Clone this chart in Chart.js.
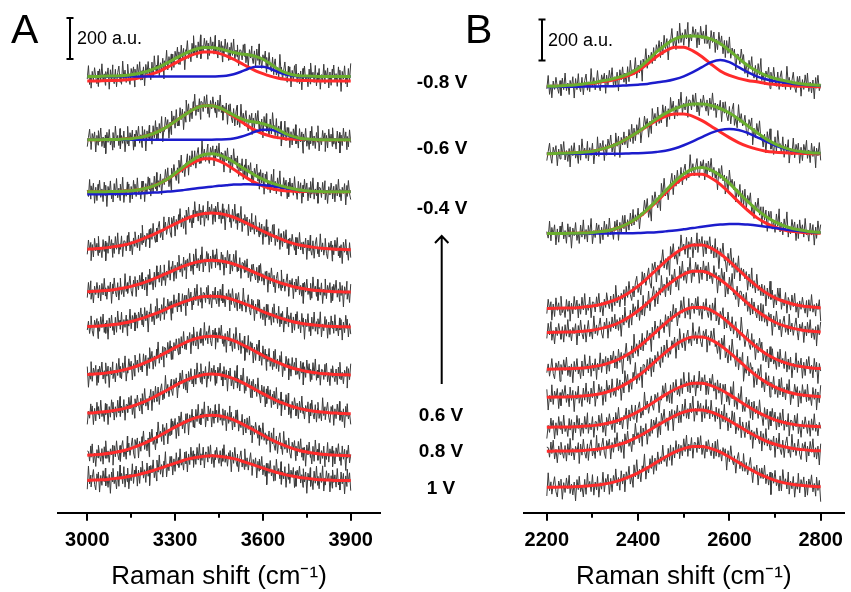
<!DOCTYPE html>
<html>
<head>
<meta charset="utf-8">
<script src="https://cdn.jsdelivr.net/npm/chart.js@4.4.1/dist/chart.umd.min.js"></script>
<style>
  html, body { margin: 0; padding: 0; background: #fff; }
  #wrap { position: relative; width: 851px; height: 592px; }
  #chartA { position: absolute; left: 0; top: 0; }
  #chartB { position: absolute; left: 410px; top: 0; }
</style>
</head>
<body>
<div id="wrap">
  <canvas id="chartA" width="410" height="592"></canvas>
  <canvas id="chartB" width="441" height="592"></canvas>
</div>
<script>
// ---- data (a.u.) ----
const xA = [3000,3025,3050,3075,3100,3125,3150,3175,3200,3225,3250,3275,3300,3325,3350,3375,3400,3425,3450,3475,3500,3525,3550,3575,3600,3625,3650,3675,3700,3725,3750,3775,3800,3825,3850,3875,3900];
const xB = [2200,2220,2240,2260,2280,2300,2320,2340,2360,2380,2400,2420,2440,2460,2480,2500,2520,2540,2560,2580,2600,2620,2640,2660,2680,2700,2720,2740,2760,2780,2800];

const ticksA = [3000, 3300, 3600, 3900];
const minorA = [3150, 3450, 3750];
const ticksB = [2200, 2400, 2600, 2800];
const minorB = [2300, 2500, 2700];

const voltages = ['-0.8 V', '-0.6 V', '-0.4 V', '0.6 V', '0.8 V', '1 V'];
const scaleBar = 200;

// stacking offset of each spectrum (top -> bottom)
const offsetsA = [2127, 1819, 1565, 1282, 1075, 905, 671, 482, 277, 156];
const offsetsB = [2075, 1751, 1362, 996, 879, 700, 563, 417, 300, 125];

// red fit, panel A
const redA = [
  [-22,-22,-21,-20,-19,-17,-13,-7,2,14,28,46,65,84,101,113,120,120,113,101,84,65,46,28,14,2,-7,-13,-17,-19,-20,-21,-22,-22,-22,-22,-22],
  [0,0,0,1,1,3,5,10,18,29,45,65,89,114,137,156,166,166,156,137,114,89,65,45,29,18,10,5,3,1,1,0,0,0,0,0,0],
  [0,0,0,1,1,3,5,10,17,28,43,63,86,110,133,151,161,161,151,133,110,86,63,43,28,17,10,5,3,1,1,0,0,0,0,0,0],
  [3,5,8,12,17,24,33,45,59,74,91,109,127,144,159,170,177,180,177,170,159,144,127,109,91,74,59,45,33,24,17,12,8,5,3,2,1],
  [3,5,7,10,15,21,29,39,51,64,79,95,110,125,138,148,154,156,154,148,138,125,110,95,79,64,51,39,29,21,15,10,7,5,3,2,1],
  [3,4,7,10,14,20,28,38,49,62,76,92,107,121,133,143,149,151,149,143,133,121,107,92,76,62,49,38,28,20,14,10,7,4,3,2,1],
  [3,6,8,13,18,26,35,47,62,78,96,115,134,152,168,180,187,190,187,180,168,152,134,115,96,78,62,47,35,26,18,13,8,6,3,2,1],
  [4,6,9,13,19,26,36,49,63,80,99,118,138,156,172,184,192,195,192,184,172,156,138,118,99,80,63,49,36,26,19,13,9,6,4,2,1],
  [4,6,9,13,19,27,37,50,65,82,101,121,141,159,176,188,196,199,196,188,176,159,141,121,101,82,65,50,37,27,19,13,9,6,4,2,1],
  [2,4,5,8,12,16,23,30,40,50,62,74,86,98,108,115,120,122,120,115,108,98,86,74,62,50,40,30,23,16,12,8,5,4,2,1,1]
];
// blue component, panel A (top three spectra)
const blueA = [
  [0,0,0,0,0,0,0,0,0,0,0,0,0,0,0,0,0,0,1,4,11,23,38,48,48,38,23,11,4,1,0,0,0,0,0,0,0],
  [0,0,0,0,0,0,0,0,0,0,0,0,0,0,0,0,0,0,1,2,6,14,26,40,49,49,40,26,14,6,2,1,0,0,0,0,0],
  [-12,-12,-12,-11,-11,-10,-9,-8,-6,-4,-2,1,4,8,12,17,21,25,29,32,35,36,37,36,33,29,24,19,13,8,4,2,1,0,0,0,0]
];
// green cumulative fit, panel A
const greenA = [
  [0,0,1,2,3,5,9,15,24,36,50,68,87,106,123,135,142,142,136,127,117,110,106,98,84,62,38,20,9,4,2,1,0,0,0,0,0],
  [0,0,0,1,1,3,5,10,18,29,45,65,89,114,137,156,166,166,157,139,120,103,91,85,78,67,50,31,17,7,3,1,0,0,0,0,0],
  [0,0,0,1,1,3,5,10,17,28,43,64,90,118,145,168,182,186,180,165,145,122,100,79,61,46,34,24,16,9,5,2,1,0,0,0,0]
];

// red fit, panel B
const redB = [
  [3,4,6,9,13,18,26,33,43,57,79,112,148,177,195,195,177,148,112,79,57,43,33,26,18,13,9,6,4,3,2],
  [0,1,2,4,7,12,22,35,54,78,105,134,161,182,193,193,182,161,134,105,78,54,35,22,12,7,4,2,1,0,0],
  [0,0,0,1,2,5,9,17,30,50,77,113,154,198,239,270,288,288,270,239,198,154,113,77,50,30,17,9,5,2,1],
  [0,1,2,3,7,12,21,34,52,77,109,147,189,230,267,294,309,309,294,267,230,189,147,109,77,52,34,21,12,7,3],
  [0,1,2,3,6,11,20,32,50,75,106,142,182,222,257,284,298,298,284,257,222,182,142,106,75,50,32,20,11,6,3],
  [0,1,2,3,6,12,20,33,51,75,107,144,184,224,260,287,301,301,287,260,224,184,144,107,75,51,33,20,12,6,3],
  [0,1,2,3,6,11,19,32,50,74,104,140,180,219,254,280,294,294,280,254,219,180,140,104,74,50,32,19,11,6,3],
  [0,1,1,2,5,8,14,23,36,54,76,102,131,159,184,203,214,214,203,184,159,131,102,76,54,36,23,14,8,5,2],
  [0,1,1,2,4,8,13,22,34,50,71,96,123,149,173,191,201,201,191,173,149,123,96,71,50,34,22,13,8,4,2],
  [0,0,1,2,4,8,13,21,33,50,70,94,121,147,171,188,198,198,188,171,147,121,94,70,50,33,21,13,8,4,2]
];
const blueB = [
  [1,1,2,2,3,3,4,5,7,9,12,16,23,29,39,53,73,98,122,133,122,98,73,53,39,29,23,16,12,9,7],
  [0,0,0,0,0,0,0,0,0,1,2,4,8,14,25,41,60,81,101,115,120,115,101,81,60,41,25,14,8,4,2],
  [0,0,0,0,0,0,0,0,1,1,2,4,6,10,14,20,26,33,39,43,46,46,43,39,33,26,20,14,10,6,4]
];
const greenB = [
  [4,5,8,11,16,21,30,38,50,66,91,128,171,206,234,248,250,246,234,212,179,141,106,79,57,42,32,22,16,12,9],
  [0,1,2,4,7,12,22,35,54,79,107,138,169,196,218,234,242,242,235,220,198,169,136,103,72,48,29,16,9,4,2],
  [0,0,0,1,2,5,9,17,31,51,79,117,160,208,253,290,314,321,309,282,244,200,156,116,83,56,37,23,15,8,5]
];

// residual scatter of the measured spectra around the fit (a.u.)
const noise = [
  18,-29,45,-12,53,-39,8,-57,25,-16,43,-4,-35,27,-49,36,-20,61,-25,12,
  -44,22,-8,40,-64,31,-23,55,-10,-38,32,-53,16,48,-31,5,-43,70,-17,26,
  -34,10,51,-22,-48,30,-1,38,-60,21,-27,44,-9,57,-33,13,-40,23,-69,35,
  -14,49,-26,3,-52,34,-39,65,-6,20,-30,53,-47,17,-21,39,-62,9,-23,60,
  -36,29,-5,42,-56,22,-43,36,0,56,-27,14,-48,47,-18,31,-73,25,-12,52,
  -35,6,-51,39,-20,64,-30,17,-44,34,-13,68,-55,9,-25,45,-3,33,-58,21,
  -40,51,-10,27,-33,58,-22,4,-46,42,-16,35,-65,23,-29,56,-8,38,-49,16,
  -35,48,-14,66,-38,12,-21,44,-57,20
];
const subA = [-12, -8, -4, 0, 4, 8, 12];
const subB = [-9, -6, -3, 0, 3, 6, 9];

// ---- styling ----
const FONT = '"Liberation Sans", Arial, sans-serif';
const RED = '#ff2b2b', BLUE = '#1c1ccc', GREEN = '#6aae2e', GRAY = '#3a3a3a';

function fitPoints(xs, vals, off) {
  return xs.map((x, i) => ({ x: x, y: off + vals[i] }));
}

function measuredPoints(xs, base, off, sub, shift) {
  const pts = [];
  const lo = xs[0], hi = xs[xs.length - 1];
  xs.forEach((x, i) => {
    sub.forEach((dx, k) => {
      const xx = x + dx;
      if (xx < lo || xx > hi) return;
      pts.push({ x: xx, y: off + base[i] + noise[(i * sub.length + k + shift) % noise.length] });
    });
  });
  return pts;
}

function buildDatasets(xs, offsets, red, blue, green, sub) {
  const ds = [];
  offsets.forEach((off, t) => {
    const base = t < green.length ? green[t] : red[t];
    ds.push({ data: measuredPoints(xs, base, off, sub, t * 37), borderColor: GRAY, borderWidth: 1, order: 4, tension: 0 });
    ds.push({ data: fitPoints(xs, red[t], off), borderColor: RED, borderWidth: 3, order: 3, cubicInterpolationMode: 'monotone' });
    if (t < blue.length) {
      ds.push({ data: fitPoints(xs, blue[t], off), borderColor: BLUE, borderWidth: 2.5, order: 2, cubicInterpolationMode: 'monotone' });
      ds.push({ data: fitPoints(xs, green[t], off), borderColor: GREEN, borderWidth: 3, order: 1, cubicInterpolationMode: 'monotone' });
    }
  });
  ds.forEach(d => { d.pointRadius = 0; d.fill = false; });
  return ds;
}

function panelOptions(min, max, ticks, padLeft, padRight) {
  return {
    responsive: false,
    animation: false,
    events: [],
    layout: { padding: { left: padLeft, right: padRight, top: 0, bottom: 0 } },
    plugins: { legend: { display: false }, tooltip: { enabled: false } },
    scales: {
      x: {
        type: 'linear', min: min, max: max,
        afterBuildTicks: axis => { axis.ticks = ticks.map(v => ({ value: v })); },
        grid: { drawOnChartArea: false, drawTicks: true, tickLength: 8, color: '#000', lineWidth: 2 },
        border: { display: true, color: '#000', width: 2 },
        ticks: { color: '#000', padding: 8, maxRotation: 0, font: { family: FONT, size: 20, weight: 'bold' }, callback: v => String(v) },
        title: { display: true, text: 'Raman shift (cm⁻¹)', color: '#000', padding: { top: 0, bottom: 0 }, font: { family: FONT, size: 26 } }
      },
      y: { display: false, min: 0, max: 2500 }
    }
  };
}

// short minor ticks between the labelled ones
function minorTickPlugin(values) {
  return {
    id: 'minorTicks',
    afterDraw(chart) {
      const sx = chart.scales.x, ctx = chart.ctx;
      ctx.save();
      ctx.strokeStyle = '#000';
      ctx.lineWidth = 2;
      values.forEach(v => {
        const px = Math.round(sx.getPixelForValue(v));
        ctx.beginPath();
        ctx.moveTo(px, sx.top);
        ctx.lineTo(px, sx.top + 5);
        ctx.stroke();
      });
      ctx.restore();
    }
  };
}

function drawScaleBar(ctx, chart, x, bottom, textX) {
  const ys = chart.scales.y;
  const len = ys.getPixelForValue(0) - ys.getPixelForValue(scaleBar);
  ctx.strokeStyle = '#000';
  ctx.lineWidth = 2;
  ctx.beginPath();
  ctx.moveTo(x, bottom); ctx.lineTo(x, bottom - len);
  ctx.moveTo(x - 3.5, bottom); ctx.lineTo(x + 3.5, bottom);
  ctx.moveTo(x - 3.5, bottom - len); ctx.lineTo(x + 3.5, bottom - len);
  ctx.stroke();
  ctx.fillStyle = '#000';
  ctx.font = '18px ' + FONT;
  ctx.textAlign = 'left';
  ctx.textBaseline = 'middle';
  ctx.fillText(scaleBar + ' a.u.', textX, bottom - len / 2 + 1);
}

const decorA = {
  id: 'decorA',
  afterDraw(chart) {
    const ctx = chart.ctx;
    ctx.save();
    ctx.fillStyle = '#000';
    ctx.font = '41px ' + FONT;
    ctx.textBaseline = 'alphabetic';
    ctx.fillText('A', 11, 43);
    drawScaleBar(ctx, chart, 70, 59, 77);
    ctx.restore();
  }
};

const decorB = {
  id: 'decorB',
  afterDraw(chart) {
    const ctx = chart.ctx;
    ctx.save();
    ctx.fillStyle = '#000';
    ctx.font = '41px ' + FONT;
    ctx.textBaseline = 'alphabetic';
    ctx.fillText('B', 55, 43);
    drawScaleBar(ctx, chart, 132, 60.5, 138);

    // potential labels and the scan arrow
    const labelY = [83, 149, 209, 416, 452, 489];
    ctx.font = 'bold 19px ' + FONT;
    ctx.textAlign = 'center';
    ctx.textBaseline = 'middle';
    voltages.forEach((v, i) => ctx.fillText(v, i < 3 ? 32 : 31, labelY[i]));

    ctx.strokeStyle = '#000';
    ctx.lineWidth = 2;
    ctx.beginPath();
    ctx.moveTo(31.7, 384); ctx.lineTo(31.7, 236);
    ctx.moveTo(25, 243); ctx.lineTo(31.7, 236); ctx.lineTo(38.4, 243);
    ctx.stroke();
    ctx.restore();
  }
};

new Chart(document.getElementById('chartA'), {
  type: 'line',
  data: { datasets: buildDatasets(xA, offsetsA, redA, blueA, greenA, subA) },
  options: panelOptions(2900, 4000, ticksA, 58, 30),
  plugins: [minorTickPlugin(minorA), decorA]
});

new Chart(document.getElementById('chartB'), {
  type: 'line',
  data: { datasets: buildDatasets(xB, offsetsB, redB, blueB, greenB, subB) },
  options: panelOptions(2150, 2850, ticksB, 114, 1),
  plugins: [minorTickPlugin(minorB), decorB]
});
</script>
</body>
</html>
